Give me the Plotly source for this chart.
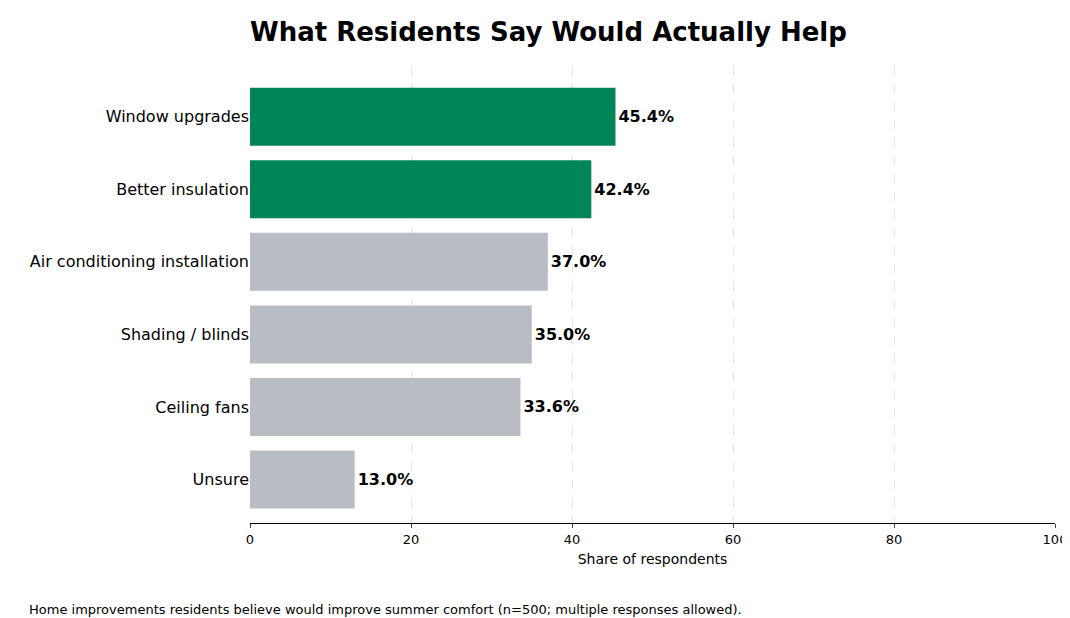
import plotly.graph_objects as go

categories = ["Window upgrades", "Better insulation", "Air conditioning installation",
              "Shading / blinds", "Ceiling fans", "Unsure"]
values = [45.4, 42.4, 37.0, 35.0, 33.6, 13.0]
highlight = [True, True, False, False, False, False]

colors = ["#00855A" if h else "#B9BDC3" for h in highlight]

fig = go.Figure()
fig.add_trace(go.Bar(
    y=categories[::-1], x=values[::-1], orientation="h",
    marker=dict(color=colors[::-1], line=dict(width=0)),
    text=[f"<b>{v:.1f}%</b>" for v in values[::-1]],
    textposition="outside", cliponaxis=False,
    textfont=dict(size=16, color="black"),
    hoverinfo="skip",
))

fig.update_layout(
    width=1070, height=618,
    font=dict(family="DejaVu Sans", color="black"),
    paper_bgcolor="white", plot_bgcolor="white",
    margin=dict(l=242, r=23, t=58, b=103),
    bargap=0.2, showlegend=False,
    title=dict(text="<b>What Residents Say Would Actually Help</b>",
               x=242/1070, xanchor="left", y=0.962, yanchor="middle",
               font=dict(size=26, color="black")),
    xaxis=dict(range=[0, 100], tickvals=[0, 20, 40, 60, 80, 100],
               showgrid=True, gridcolor="#E6E6E6", griddash="dash", gridwidth=1,
               showline=True, linecolor="black", ticks="outside", ticklen=4,
               tickfont=dict(size=13), zeroline=False,
               title=dict(text="Share of respondents", font=dict(size=14), standoff=8)),
    yaxis=dict(showline=False, ticks="", tickfont=dict(size=16), showgrid=False,
               range=[-0.6, 5.7]),
    annotations=[dict(text="Home improvements residents believe would improve summer comfort (n=500; multiple responses allowed).",
                      xref="paper", yref="paper", x=-223/805, y=-0.189,
                      xanchor="left", yanchor="middle", showarrow=False,
                      font=dict(size=13))],
)

fig.write_html("out.html")
